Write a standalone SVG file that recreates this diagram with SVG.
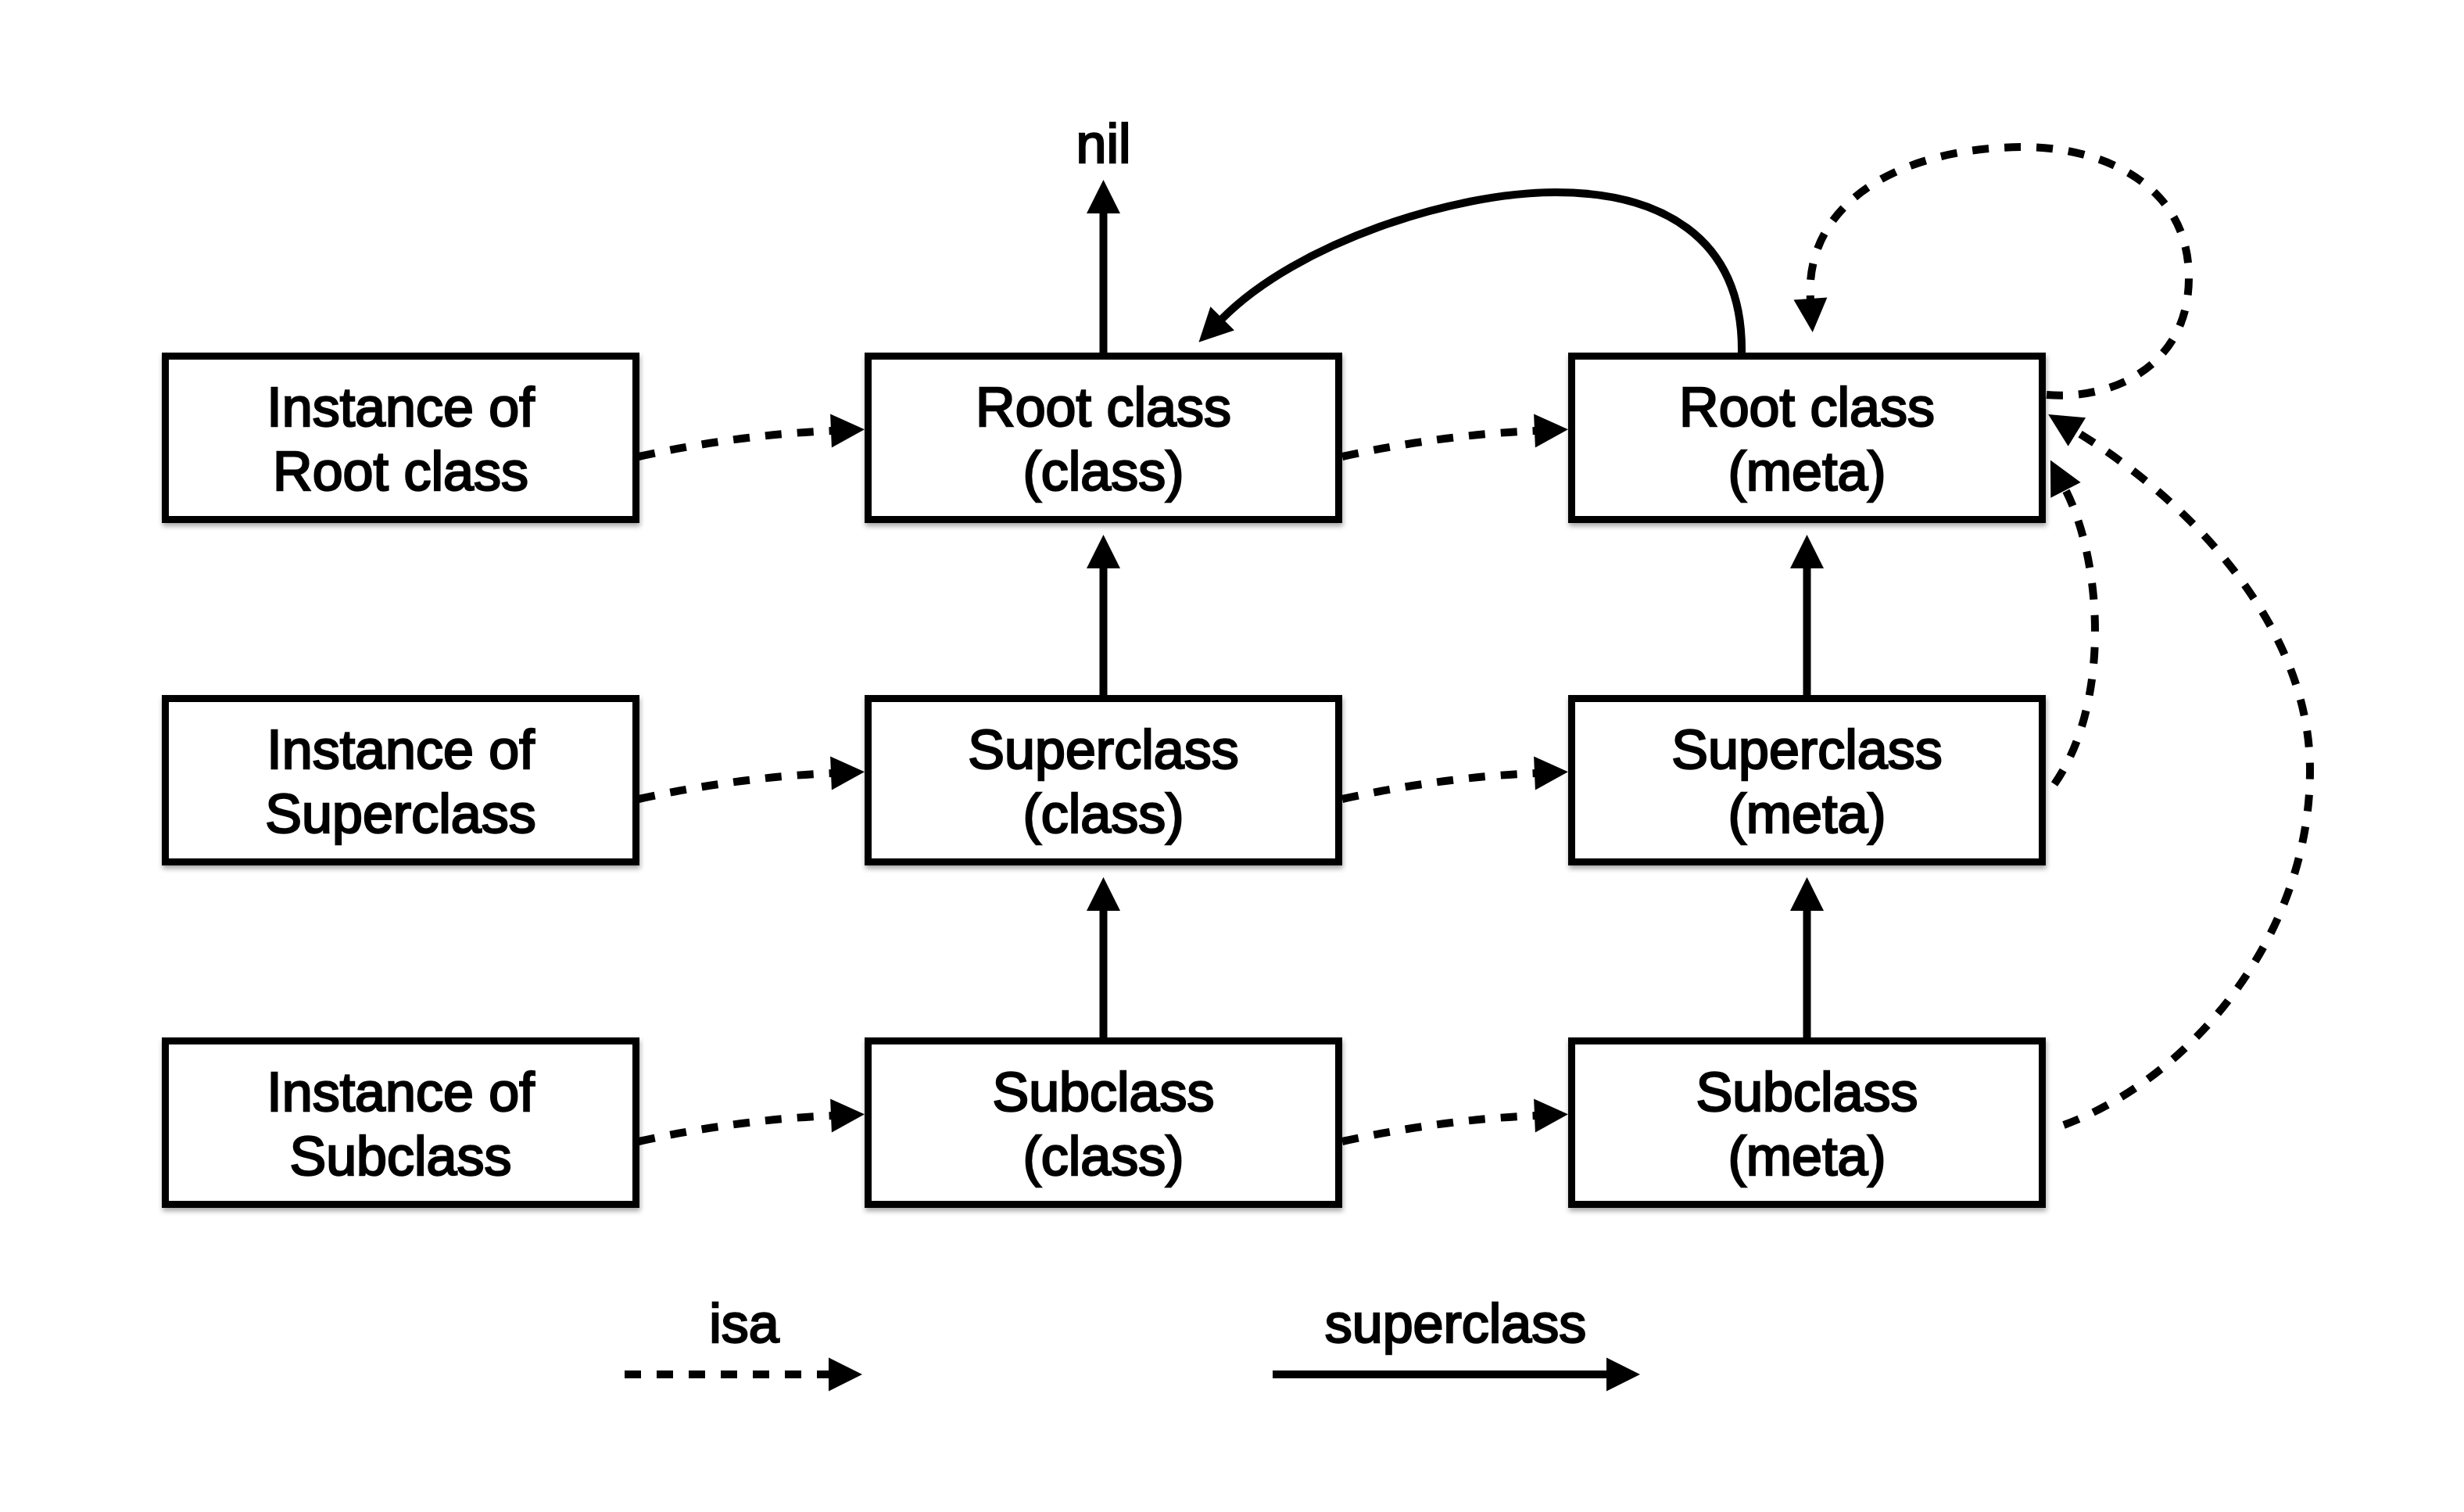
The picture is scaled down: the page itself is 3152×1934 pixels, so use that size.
<svg xmlns="http://www.w3.org/2000/svg" width="3152" height="1934" viewBox="0 0 3152 1934">
<defs>
<style>
.box{fill:#fff;stroke:#000;stroke-width:9;filter:url(#sh)}
.t{font-family:"Liberation Sans",Arial,Helvetica,sans-serif;font-size:70px;text-anchor:middle;fill:#000;stroke:#000;stroke-width:2.4px}
.sup{fill:none;stroke:#000;stroke-width:10;marker-end:url(#ah)}
.isa{fill:none;stroke:#000;stroke-width:10;stroke-dasharray:21 20;marker-end:url(#ah)}
</style>
<filter id="sh" x="-5%" y="-5%" width="110%" height="120%">
<feDropShadow dx="1" dy="4" stdDeviation="3" flood-color="#000" flood-opacity="0.35"/>
</filter>
<marker id="ah" markerUnits="userSpaceOnUse" markerWidth="44" markerHeight="44" refX="1" refY="21.5" orient="auto" overflow="visible">
<path d="M0,0 L43,21.5 L0,43 Z" fill="#000"/>
</marker>
</defs>
<rect width="3152" height="1934" fill="#fff"/>

<g id="connectors">
<!-- superclass (solid) -->
<path class="sup" d="M1411.5,451 L1411.5,272"/>
<path class="sup" d="M1411.5,889 L1411.5,726"/>
<path class="sup" d="M1411.5,1327 L1411.5,1164"/>
<path class="sup" d="M2311.5,889 L2311.5,726"/>
<path class="sup" d="M2311.5,1327 L2311.5,1164"/>
<path class="sup" d="M2228,451 C2230,300 2120,246 1990,246 C1860,246 1660,310 1563,408"/>
<!-- isa (dashed) row 1 -->
<path class="isa" d="M817,584 Q945,556 1064,551"/>
<path class="isa" d="M1717,584 Q1845,556 1964,551"/>
<!-- row 2 -->
<path class="isa" d="M817,1022 Q945,994 1064,989"/>
<path class="isa" d="M1717,1022 Q1845,994 1964,989"/>
<!-- row 3 -->
<path class="isa" d="M817,1460 Q945,1432 1064,1427"/>
<path class="isa" d="M1717,1460 Q1845,1432 1964,1427"/>
<!-- meta isa curves -->
<path class="isa" d="M2618,505 C2700,512 2800,470 2800,355 C2800,230 2680,188 2590,188 C2430,188 2308,260 2316,383"/>
<path class="isa" d="M2628,1003 C2700,900 2690,720 2642,626"/>
<path class="isa" d="M2640,1439 C2800,1380 2955,1200 2955,985 C2955,800 2800,640 2656,552"/>
</g>

<g id="nil"><text class="t" x="1411.5" y="208">nil</text></g>

<g id="inst-root"><rect class="box" x="211.5" y="455.5" width="602" height="209"/>
<text class="t" x="512.5" y="545">Instance of</text><text class="t" x="512.5" y="627">Root class</text></g>
<g id="root-class"><rect class="box" x="1110.5" y="455.5" width="602" height="209"/>
<text class="t" x="1411.5" y="545">Root class</text><text class="t" x="1411.5" y="627">(class)</text></g>
<g id="root-meta"><rect class="box" x="2010.5" y="455.5" width="602" height="209"/>
<text class="t" x="2311.5" y="545">Root class</text><text class="t" x="2311.5" y="627">(meta)</text></g>

<g id="inst-super"><rect class="box" x="211.5" y="893.5" width="602" height="209"/>
<text class="t" x="512.5" y="983">Instance of</text><text class="t" x="512.5" y="1065">Superclass</text></g>
<g id="super-class"><rect class="box" x="1110.5" y="893.5" width="602" height="209"/>
<text class="t" x="1411.5" y="983">Superclass</text><text class="t" x="1411.5" y="1065">(class)</text></g>
<g id="super-meta"><rect class="box" x="2010.5" y="893.5" width="602" height="209"/>
<text class="t" x="2311.5" y="983">Superclass</text><text class="t" x="2311.5" y="1065">(meta)</text></g>

<g id="inst-sub"><rect class="box" x="211.5" y="1331.5" width="602" height="209"/>
<text class="t" x="512.5" y="1421">Instance of</text><text class="t" x="512.5" y="1503">Subclass</text></g>
<g id="sub-class"><rect class="box" x="1110.5" y="1331.5" width="602" height="209"/>
<text class="t" x="1411.5" y="1421">Subclass</text><text class="t" x="1411.5" y="1503">(class)</text></g>
<g id="sub-meta"><rect class="box" x="2010.5" y="1331.5" width="602" height="209"/>
<text class="t" x="2311.5" y="1421">Subclass</text><text class="t" x="2311.5" y="1503">(meta)</text></g>

<g id="legend">
<text class="t" x="952" y="1717">isa</text>
<path class="isa" d="M799,1758 L1061,1758"/>
<text class="t" x="1862" y="1717">superclass</text>
<path class="sup" d="M1628,1758 L2056,1758"/>
</g>
</svg>
